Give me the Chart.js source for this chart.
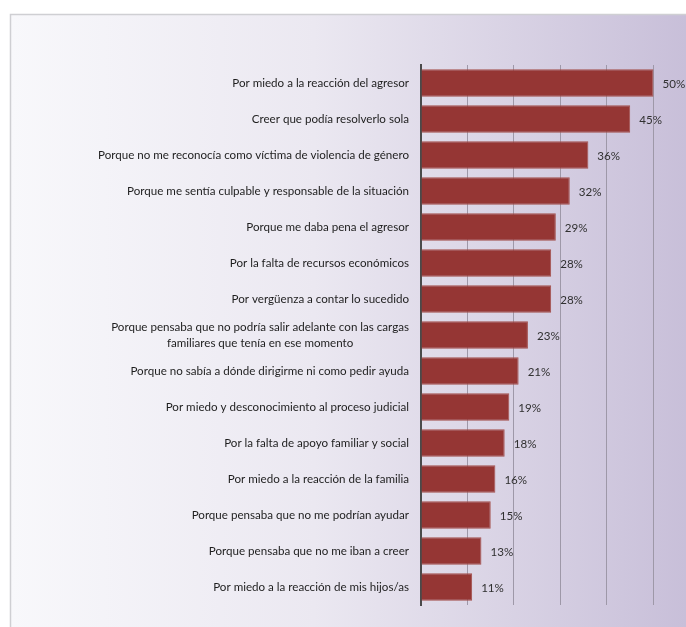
<!DOCTYPE html>
<html>
<head>
<meta charset="utf-8">
<script src="https://cdn.jsdelivr.net/npm/chart.js@4.4.1/dist/chart.umd.min.js"></script>
<style>
  html, body { margin: 0; padding: 0; background: #fff; overflow: hidden; }
  #wrap { width: 686px; height: 627px; position: relative; }
</style>
</head>
<body>
<div id="wrap"><canvas id="motivos"></canvas></div>
<script>
const categories = [
  ['Por miedo a la reacción del agresor'],
  ['Creer que podía resolverlo sola'],
  ['Porque no me reconocía como víctima de violencia de género'],
  ['Porque me sentía culpable y responsable de la situación'],
  ['Porque me daba pena el agresor'],
  ['Por la falta de recursos económicos'],
  ['Por vergüenza a contar lo sucedido'],
  ['Porque pensaba que no podría salir adelante con las cargas', 'familiares que tenía en ese momento'],
  ['Porque no sabía a dónde dirigirme ni como pedir ayuda'],
  ['Por miedo y desconocimiento al proceso judicial'],
  ['Por la falta de apoyo familiar y social'],
  ['Por miedo a la reacción de la familia'],
  ['Porque pensaba que no me podrían ayudar'],
  ['Porque pensaba que no me iban a creer'],
  ['Por miedo a la reacción de mis hijos/as']
];
const values = [50, 45, 36, 32, 29, 28, 28, 23, 21, 19, 18, 16, 15, 13, 11];
const xTicks = [0, 10, 20, 30, 40, 50];

const FONT = '11.6px Lato, "Open Sans", sans-serif';

// fondo del panel con degradado
const panelBg = {
  id: 'panelBg',
  beforeDraw(chart) {
    const c = chart.ctx;
    const w = chart.width, h = chart.height;
    const g = c.createLinearGradient(10, 0, w, 0);
    g.addColorStop(0, '#f8f8fb');
    g.addColorStop(0.45, '#ebe8f1');
    g.addColorStop(1, '#c8bfd9');
    c.save();
    c.fillStyle = g;
    c.fillRect(10, 14, w - 10, h - 14);
    c.strokeStyle = '#cfcfd3';
    c.lineWidth = 1.5;
    c.beginPath();
    c.moveTo(10.5, h);
    c.lineTo(10.5, 14.5);
    c.lineTo(w, 14.5);
    c.stroke();
    c.restore();
  }
};

// etiquetas de categoría y de valor
const labelsPlugin = {
  id: 'labelsPlugin',
  afterDatasetsDraw(chart) {
    const c = chart.ctx;
    const ys = chart.scales.y, xs = chart.scales.x;
    c.save();
    c.font = FONT;
    c.textBaseline = 'middle';
    categories.forEach((lines, i) => {
      const y = ys.getPixelForValue(i);
      const widest = Math.max(...lines.map(l => c.measureText(l).width));
      const right = chart.chartArea.left - 12;
      const cx = right - widest / 2;
      const lh = 16;
      c.fillStyle = '#1e1e1e';
      c.textAlign = 'center';
      lines.forEach((l, k) => {
        c.fillText(l, cx, y + (k - (lines.length - 1) / 2) * lh);
      });
      c.fillStyle = '#303030';
      c.textAlign = 'left';
      c.fillText(values[i] + '%', xs.getPixelForValue(values[i]) + 9, y + 1);
    });
    c.restore();
  }
};

new Chart(document.getElementById('motivos'), {
  type: 'bar',
  data: {
    labels: categories,
    datasets: [{
      data: values,
      backgroundColor: '#953634',
      borderColor: '#a4504d',
      borderWidth: 1,
      barPercentage: 0.76,
      categoryPercentage: 1
    }]
  },
  options: {
    indexAxis: 'y',
    responsive: true,
    maintainAspectRatio: false,
    animation: false,
    layout: { padding: { top: 65, bottom: 22, left: 0, right: 0 } },
    plugins: { legend: { display: false }, tooltip: { enabled: false } },
    scales: {
      x: {
        min: 0,
        max: 57,
        afterBuildTicks: s => { s.ticks = xTicks.map(v => ({ value: v })); },
        afterFit: s => { s.height = 0; },
        ticks: { display: false },
        border: { display: false },
        grid: { color: '#9e98a8', lineWidth: 1, drawTicks: false }
      },
      y: {
        afterFit: s => { s.width = 421; },
        ticks: { display: false },
        border: { display: true, color: '#4a4a4a', width: 2 },
        grid: { display: false }
      }
    }
  },
  plugins: [panelBg, labelsPlugin]
});
</script>
</body>
</html>
